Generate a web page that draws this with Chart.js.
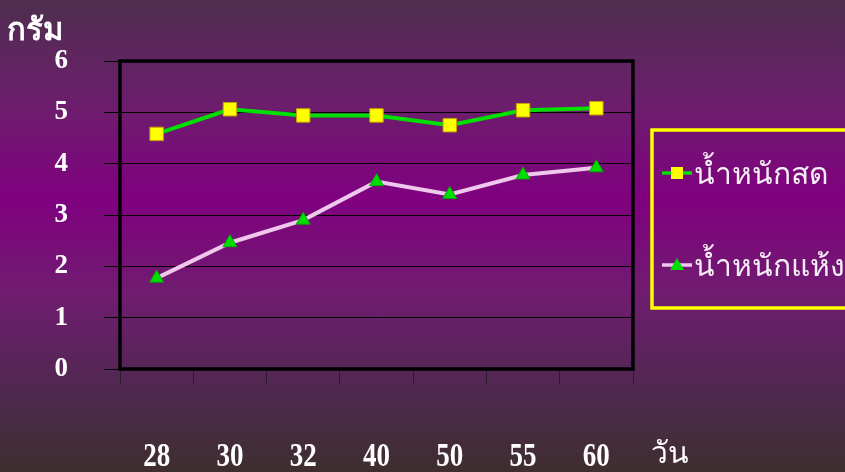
<!DOCTYPE html>
<html>
<head>
<meta charset="utf-8">
<script src="https://cdn.jsdelivr.net/npm/chart.js@4"></script>
<style>
  html, body { margin: 0; padding: 0; background: #5a2a5a; }
  #wrap { position: relative; width: 845px; height: 472px; }
</style>
</head>
<body>
<div id="wrap"><canvas id="c" width="845" height="472"></canvas></div>
<script>
const categories = ['28', '30', '32', '40', '50', '55', '60'];
const freshWeight = [4.58, 5.06, 4.94, 4.94, 4.75, 5.04, 5.08];
const dryWeight = [1.77, 2.46, 2.90, 3.65, 3.40, 3.78, 3.92];
const seriesNames = ['น้ำหนักสด', 'น้ำหนักแห้ง'];
const yTicks = [0, 1, 2, 3, 4, 5, 6];
const yTitle = 'กรัม';
const xTitle = 'วัน';

const serif = '"Liberation Serif", "Times New Roman", serif';

const bgPlugin = {
  id: 'bg',
  beforeDraw(chart) {
    const { ctx, width, height } = chart;
    const g = ctx.createLinearGradient(0, 0, 0, height);
    g.addColorStop(0, 'rgb(78,46,78)');
    g.addColorStop(0.22, 'rgb(108,30,108)');
    g.addColorStop(0.42, 'rgb(128,0,128)');
    g.addColorStop(0.62, 'rgb(112,28,112)');
    g.addColorStop(0.85, 'rgb(76,42,76)');
    g.addColorStop(1, 'rgb(62,46,46)');
    ctx.save();
    ctx.fillStyle = g;
    ctx.fillRect(0, 0, width, height);
    ctx.restore();
  },
  afterDatasetsDraw(chart) {
    const { ctx, chartArea: a } = chart;
    ctx.save();
    ctx.strokeStyle = '#000';
    ctx.lineWidth = 3.5;
    ctx.strokeRect(a.left, a.top, a.right - a.left, a.bottom - a.top);
    ctx.restore();
  },
  afterDraw(chart) {
    const { ctx } = chart;
    const xs = chart.scales.x;
    ctx.save();
    // x category labels (slightly tall serif, as in the reference)
    ctx.fillStyle = '#ffffff';
    ctx.font = 'bold 27px ' + serif;
    ctx.textAlign = 'center';
    ctx.textBaseline = 'alphabetic';
    chart.data.labels.forEach((lab, i) => {
      const px = xs.getPixelForValue(i);
      ctx.save();
      ctx.translate(px, 466);
      ctx.scale(1, 1.25);
      ctx.fillText(lab, 0, 0);
      ctx.restore();
    });

    ctx.textAlign = 'left';
    ctx.font = 'bold 31px ' + serif;
    ctx.fillText(yTitle, 7, 40);
    ctx.font = '30px ' + serif;
    ctx.fillText(xTitle, 651, 463);

    // legend
    const lx = 652, ly = 130, lw = 200, lh = 178;
    ctx.strokeStyle = '#ffff00';
    ctx.lineWidth = 3.5;
    ctx.strokeRect(lx, ly, lw, lh);
    const rows = [173, 265];
    chart.data.datasets.forEach((ds, i) => {
      const y = rows[i];
      ctx.strokeStyle = ds.borderColor;
      ctx.lineWidth = 3.5;
      ctx.beginPath();
      ctx.moveTo(662, y);
      ctx.lineTo(692, y);
      ctx.stroke();
      ctx.fillStyle = ds.pointBackgroundColor;
      if (ds.pointStyle === 'rect') {
        ctx.fillRect(671, y - 6, 12, 12);
      } else {
        ctx.beginPath();
        ctx.moveTo(677, y - 7);
        ctx.lineTo(684, y + 5);
        ctx.lineTo(670, y + 5);
        ctx.closePath();
        ctx.fill();
      }
      ctx.fillStyle = '#f6eef6';
      ctx.font = '30px "Noto Sans", sans-serif';
      ctx.textBaseline = 'middle';
      ctx.fillText(ds.label, 694, y + 2);
    });
    ctx.restore();
  }
};

new Chart(document.getElementById('c'), {
  type: 'line',
  data: {
    labels: categories,
    datasets: [
      {
        label: seriesNames[0],
        data: freshWeight,
        borderColor: '#00e000',
        borderWidth: 4,
        pointStyle: 'rect',
        pointRadius: 9.5,
        pointBackgroundColor: '#ffff00',
        pointBorderColor: '#c8a000',
        pointBorderWidth: 1,
        tension: 0
      },
      {
        label: seriesNames[1],
        data: dryWeight,
        borderColor: '#f0c8ee',
        borderWidth: 4,
        pointStyle: 'triangle',
        pointRadius: 8,
        pointBackgroundColor: '#00dd00',
        pointBorderColor: '#00aa00',
        pointBorderWidth: 1,
        tension: 0
      }
    ]
  },
  options: {
    responsive: false,
    animation: false,
    devicePixelRatio: 1,
    layout: { padding: { top: 61, right: 212, left: 0, bottom: 0 } },
    plugins: { legend: { display: false }, tooltip: { enabled: false } },
    scales: {
      x: {
        offset: true,
        grid: { display: true, drawOnChartArea: false, color: '#2a1a2a', lineWidth: 1, tickLength: 15, offset: true },
        border: { display: false },
        ticks: { display: false },
        afterFit(s) { s.height = 103; }
      },
      y: {
        min: 0, max: 6,
        afterBuildTicks(s) { s.ticks = yTicks.map(v => ({ value: v })); },
        grid: { color: '#000000', lineWidth: 1, tickLength: 16 },
        border: { display: false },
        ticks: { color: '#ffffff', font: { family: serif, size: 27, weight: 'bold' }, padding: 36 },
        afterFit(s) { s.width = 120; }
      }
    }
  },
  plugins: [bgPlugin]
});
</script>
</body>
</html>
